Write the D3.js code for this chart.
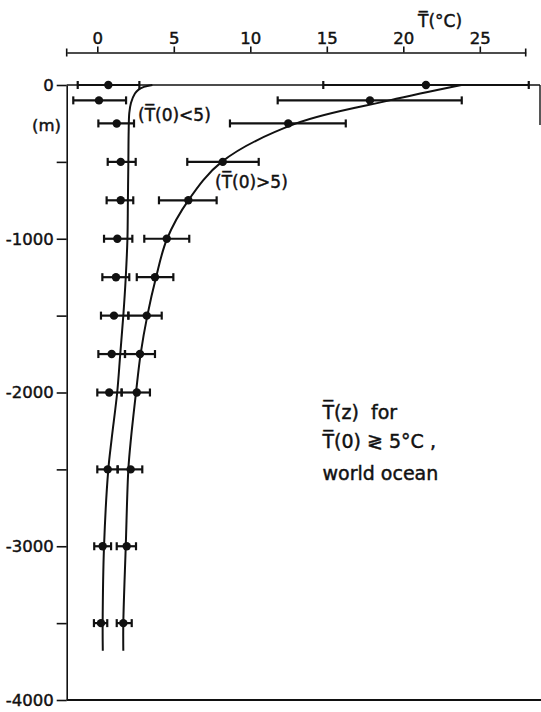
<!DOCTYPE html>
<html>
<head>
<meta charset="utf-8">
<script src="https://cdn.jsdelivr.net/npm/d3@7"></script>
<style>
  html, body { margin: 0; padding: 0; background: #fff; }
  svg { display: block; }
  text { font-family: "DejaVu Sans", sans-serif; fill: #111; stroke: #111; stroke-width: 0.45px; }
</style>
</head>
<body>
<svg id="chart" width="541" height="712"></svg>
<script>
// ---- data ----
const depths = [0, -100, -250, -500, -750, -1000, -1250, -1500, -1750, -2000, -2500, -3000, -3500];

// T(0) < 5 group
const coldMean = [0.72, 0.11, 1.27, 1.53, 1.53, 1.31, 1.22, 1.09, 0.94, 0.78, 0.68, 0.35, 0.24];
const coldLo   = [-1.28, -1.57, 0.07, 0.68, 0.61, 0.44, 0.33, 0.24, 0.07, 0.00, 0.00, -0.20, -0.22];
const coldHi   = [2.75, 1.88, 2.40, 2.51, 2.35, 2.29, 2.09, 2.03, 1.81, 1.59, 1.33, 0.90, 0.65];

// T(0) > 5 group
const warmMean = [21.48, 17.82, 12.48, 8.20, 5.95, 4.54, 3.77, 3.23, 2.79, 2.58, 2.18, 1.92, 1.70];
const warmLo   = [14.77, 11.79, 8.67, 5.88, 4.03, 3.07, 2.58, 2.03, 1.81, 1.59, 1.33, 1.27, 1.27];
const warmHi   = [28.20, 23.82, 16.24, 10.55, 7.80, 6.01, 4.97, 4.21, 3.77, 3.44, 2.94, 2.53, 2.25];

// fitted curves
const coldCurveZ = [0, -12, -30, -55, -117, -182, -300, -500, -750, -1000, -1250, -1500, -1750, -2000, -2300, -2500, -3000, -3500, -3680];
const coldCurveT = [3.6, 3.05, 2.7, 2.46, 2.2, 2.09, 2.05, 2.03, 2.0, 1.97, 1.86, 1.7, 1.5, 1.3, 0.94, 0.72, 0.44, 0.35, 0.36];
const warmCurveZ = [0, -100, -250, -500, -750, -1000, -1250, -1500, -1750, -2000, -2300, -2500, -3000, -3500, -3680];
const warmCurveT = [23.8, 19.1, 13.0, 8.13, 5.95, 4.56, 3.84, 3.27, 2.83, 2.53, 2.2, 2.03, 1.86, 1.7, 1.7];

const xTicks = [0, 5, 10, 15, 20, 25];
const yTicks = [0, -500, -1000, -1500, -2000, -2500, -3000, -3500, -4000];
const yLabelled = [0, -1000, -2000, -3000, -4000];

// ---- layout ----
const svg = d3.select("#chart");
const x = d3.scaleLinear().domain([-2, 28]).range([66.7, 525.7]);
const y = d3.scaleLinear().domain([0, -4000]).range([85, 700]);
const topAxisY = 52.5;
const ink = "#111";

// top axis
const gTop = svg.append("g").attr("transform", `translate(0,${topAxisY})`)
  .call(d3.axisTop(x).tickValues(xTicks).tickSize(6).tickSizeOuter(0).tickPadding(2.5).tickFormat(d => String(d)));
gTop.select(".domain").attr("stroke", ink).attr("stroke-width", 1.4);
gTop.selectAll(".tick line").attr("stroke", ink).attr("stroke-width", 1.6);
gTop.selectAll(".tick text").attr("font-size", 16.5).attr("font-family", "DejaVu Sans").attr("fill", ink);
// end ticks
[-2, 28].forEach(v => {
  gTop.append("line").attr("x1", x(v)).attr("x2", x(v)).attr("y1", -4).attr("y2", 4)
    .attr("stroke", ink).attr("stroke-width", 1.6);
});
svg.append("text").attr("x", 418).attr("y", 27).attr("font-size", 17).text("T\u0305(°C)");

// left axis
const gLeft = svg.append("g").attr("transform", `translate(${x(-2)},0)`)
  .call(d3.axisLeft(y).tickValues(yTicks).tickSize(10).tickSizeOuter(0).tickPadding(3)
    .tickFormat(d => yLabelled.includes(d) ? String(d) : ""));
gLeft.select(".domain").attr("stroke", ink).attr("stroke-width", 1.6);
gLeft.selectAll(".tick line").attr("stroke", ink).attr("stroke-width", 1.6);
gLeft.selectAll(".tick text").attr("font-size", 16.5).attr("font-family", "DejaVu Sans").attr("fill", ink);
svg.append("text").attr("x", 32).attr("y", 131).attr("font-size", 16.5).text("(m)");

// frame: top line at z=0, right edge piece, bottom line
svg.append("line").attr("x1", x(-2)).attr("x2", 540).attr("y1", y(0)).attr("y2", y(0))
  .attr("stroke", ink).attr("stroke-width", 1.6);
svg.append("line").attr("x1", 540).attr("x2", 540).attr("y1", y(0)).attr("y2", y(-260))
  .attr("stroke", ink).attr("stroke-width", 1.4);
svg.append("line").attr("x1", x(-2)).attr("x2", 541).attr("y1", y(-4000)).attr("y2", y(-4000))
  .attr("stroke", ink).attr("stroke-width", 2);

// curves
const line = d3.line().x(d => x(d[0])).y(d => y(d[1])).curve(d3.curveCatmullRom.alpha(0.5));
svg.append("path").datum(coldCurveT.map((t, i) => [t, coldCurveZ[i]]))
  .attr("d", line).attr("fill", "none").attr("stroke", ink).attr("stroke-width", 2);
svg.append("path").datum(warmCurveT.map((t, i) => [t, warmCurveZ[i]]))
  .attr("d", line).attr("fill", "none").attr("stroke", ink).attr("stroke-width", 2);

// error bars + points
function drawGroup(mean, lo, hi) {
  const data = depths.map((z, i) => ({ z, m: mean[i], lo: lo[i], hi: hi[i] }));
  const g = svg.append("g");
  g.selectAll("line.bar").data(data).join("line").attr("class", "bar")
    .attr("x1", d => x(d.lo)).attr("x2", d => x(d.hi))
    .attr("y1", d => y(d.z)).attr("y2", d => y(d.z))
    .attr("stroke", ink).attr("stroke-width", 2.2);
  ["lo", "hi"].forEach(k => {
    g.selectAll("line.cap" + k).data(data).join("line").attr("class", "cap" + k)
      .attr("x1", d => x(d[k])).attr("x2", d => x(d[k]))
      .attr("y1", d => y(d.z) - 4).attr("y2", d => y(d.z) + 4)
      .attr("stroke", ink).attr("stroke-width", 2.2);
  });
  g.selectAll("circle").data(data).join("circle")
    .attr("cx", d => x(d.m)).attr("cy", d => y(d.z)).attr("r", 4.2).attr("fill", ink);
}
drawGroup(coldMean, coldLo, coldHi);
drawGroup(warmMean, warmLo, warmHi);

// curve labels
svg.append("text").attr("x", 138).attr("y", 120.5).attr("font-size", 17).text("(T\u0305(0)<5)");
svg.append("text").attr("x", 215).attr("y", 187.5).attr("font-size", 17).text("(T\u0305(0)>5)");

// annotation
const ann = svg.append("g").attr("font-size", 19);
ann.append("text").attr("x", 322.5).attr("y", 418.5).attr("xml:space", "preserve").text("T\u0305(z)  for");
ann.append("text").attr("x", 322.5).attr("y", 448).text("T\u0305(0) \u2277 5°C ,");
ann.append("text").attr("x", 322.5).attr("y", 479.5).text("world ocean");
</script>
</body>
</html>
